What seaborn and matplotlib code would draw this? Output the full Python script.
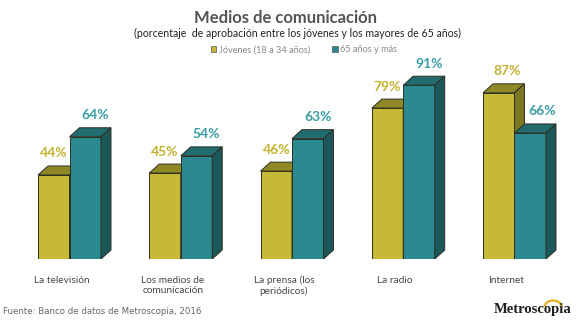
import numpy as np
import pandas as pd
import matplotlib
matplotlib.use("Agg")
import matplotlib.pyplot as plt
from matplotlib.patches import Polygon, Patch, Arc
from matplotlib.transforms import ScaledTranslation
import seaborn as sns

# --- data ---------------------------------------------------------------
categorias = ["La televisión", "Los medios de\ncomunicación", "La prensa (los\nperiódicos)",
              "La radio", "Internet"]
jovenes = [44, 45, 46, 79, 87]
mayores = [64, 54, 63, 91, 66]
grupos = ["Jóvenes (18 a 34 años)", "65 años y más"]

df = pd.DataFrame({
    "medio": categorias * 2,
    "valor": jovenes + mayores,
    "grupo": [grupos[0]] * len(categorias) + [grupos[1]] * len(categorias),
})

# --- styling -------------------------------------------------------------
front = {grupos[0]: "#c6b936", grupos[1]: "#2b8a8f"}
top_c = {grupos[0]: "#8e8826", grupos[1]: "#216c6f"}
side_c = {grupos[0]: "#7c7822", grupos[1]: "#1c5759"}
label_c = {grupos[0]: "#c2b22e", grupos[1]: "#3a9da5"}
label_dx = {grupos[0]: 0, grupos[1]: 10}      # horizontal nudge of value labels, px
edge = "#2e2e22"

sns.set_theme(style="white")
plt.rcParams["font.family"] = ["Lato", "DejaVu Sans"]

W, H, DPI = 5.8, 3.24, 100
fig = plt.figure(figsize=(W, H), dpi=DPI)
fig.patch.set_facecolor("white")

# axes spans the full width; y from 0% (baseline) to 100%
base_px, full_px = 259, 191
ax = fig.add_axes([0, (H * DPI - base_px) / (H * DPI), 1, full_px / (H * DPI)])

sns.barplot(data=df, x="medio", y="valor", hue="grupo", hue_order=grupos,
            palette=front, saturation=1, width=0.566, gap=0, dodge=True,
            edgecolor=edge, linewidth=0.7, legend=False, ax=ax, zorder=1)

# map group centres onto pixel columns
c0_px, c4_px = 69.5, 514.5
upp = 4 / (c4_px - c0_px)
ax.set_xlim(-c0_px * upp, 4 + (W * DPI - c4_px) * upp)
ax.set_ylim(0, 100)

# depth of the 3D extrusion, in data units
dx = 10 * upp
dy = 9 * 100 / full_px

z = 2
for gi, cont in enumerate(ax.containers):
    g = grupos[gi]
    other = ax.containers[1 - gi]
    for bi, bar in enumerate(cont):
        x0 = bar.get_x()
        w = bar.get_width()
        h = bar.get_height()
        x1 = x0 + w
        bar.set_zorder(z)
        top = Polygon([(x0, h), (x1, h), (x1 + dx, h + dy), (x0 + dx, h + dy)],
                      closed=True, facecolor=top_c[g], edgecolor=edge, lw=0.7, zorder=z)
        side = Polygon([(x1, 0), (x1 + dx, dy), (x1 + dx, h + dy), (x1, h)],
                       closed=True, facecolor=side_c[g], edgecolor=edge, lw=0.7, zorder=z)
        ax.add_patch(top)
        ax.add_patch(side)
        nudge = label_dx[g]
        if gi == 0 and h > other[bi].get_height():
            nudge += 8
        elif gi == 1 and h < other[bi].get_height():
            nudge += 2
        ax.annotate(f"{h:.0f}%", (x0 + w / 2, h), xytext=(nudge, 21.5),
                    textcoords="offset pixels", ha="center", va="center",
                    fontsize=10, fontweight="bold", color=label_c[g], zorder=10)
    z += 1

# axes cosmetics
sns.despine(ax=ax, left=True, bottom=True)
ax.set_yticks([])
ax.set_xlabel("")
ax.set_ylabel("")
ax.tick_params(axis="x", length=0, pad=12, labelsize=7.3, labelcolor="#444444")
for lab in ax.get_xticklabels():
    lab.set_multialignment("center")
    lab.set_transform(lab.get_transform() + ScaledTranslation(-8 / DPI, 0, fig.dpi_scale_trans))

# titles
fig.text(286 / 580, 1 - 18 / 324, "Medios de comunicación", ha="center", va="center",
         fontsize=12, fontweight="bold", color="#555555")
fig.text(298 / 580, 1 - 33 / 324,
         "(porcentaje  de aprobación entre los jóvenes y los mayores de 65 años)",
         ha="center", va="center", fontsize=7.6, color="#222222")

# legend
handles = [Patch(facecolor=front[g], edgecolor="#555555", lw=0.5) for g in grupos]
fig.legend(handles, grupos, loc="center", bbox_to_anchor=(304 / 580, 1 - 50 / 324),
           ncol=2, frameon=False, fontsize=6.6, handlelength=0.6, handleheight=0.6,
           handletextpad=0.3, columnspacing=2.4, labelcolor="#888888")

# source and brand
fig.text(3 / 580, 1 - 312 / 324, "Fuente: Banco de datos de Metroscopia, 2016",
         ha="left", va="center", fontsize=6.2, color="#666666",
         family=["DejaVu Sans"])
fig.text(571 / 580, 1 - 310 / 324, "Metroscopia", ha="right", va="center",
         fontsize=10.5, fontweight="bold", color="#1e1e1e",
         family=["Liberation Serif", "DejaVu Serif"])
lax = fig.add_axes([0, 0, 1, 1], facecolor="none")
lax.set_xlim(0, 580)
lax.set_ylim(324, 0)
lax.axis("off")
# y axis runs downward here, so the upper half-arc spans 180..360 degrees
lax.add_patch(Arc((553, 307), 17, 13, theta1=180, theta2=360, color="#e0b020", lw=1.6))

fig.savefig("out.png", dpi=DPI, facecolor="white")
